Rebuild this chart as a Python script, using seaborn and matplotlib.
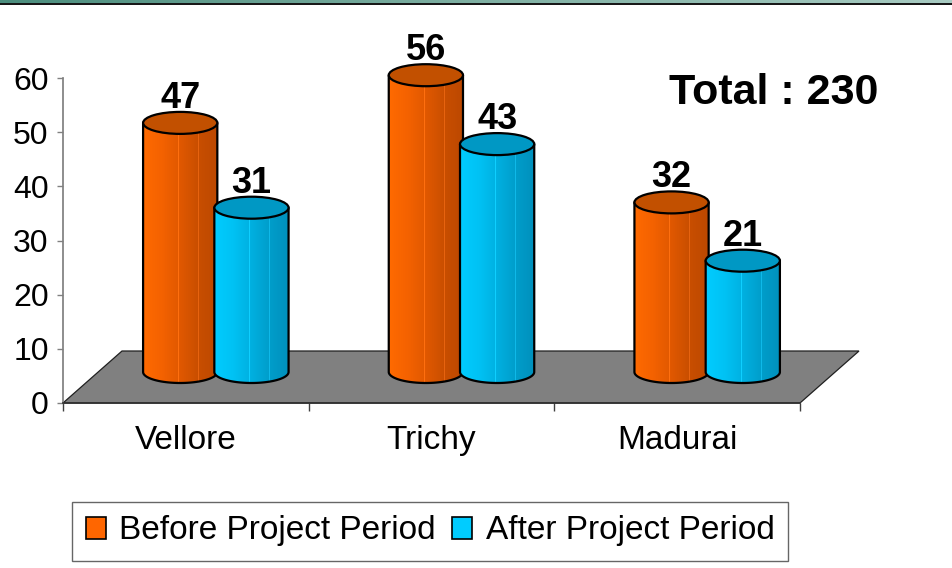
import numpy as np
import pandas as pd
import matplotlib
matplotlib.use("Agg")
import matplotlib.pyplot as plt
import seaborn as sns
from matplotlib.patches import Polygon, Ellipse, PathPatch, Patch
from matplotlib.path import Path
from matplotlib.lines import Line2D
from matplotlib.colors import LinearSegmentedColormap

# ---- data -------------------------------------------------------------
districts = ["Vellore", "Trichy", "Madurai"]
periods = ["Before Project Period", "After Project Period"]
before_counts = [47, 56, 32]
after_counts = [31, 43, 21]
total_label = "Total : 230"
y_ticks = [0, 10, 20, 30, 40, 50, 60]

df = pd.DataFrame({
    "district": districts * 2,
    "period": [periods[0]] * len(districts) + [periods[1]] * len(districts),
    "count": before_counts + after_counts,
})

# ---- style ------------------------------------------------------------
sns.set_theme(style="white")
plt.rcParams["font.family"] = ["Liberation Sans", "DejaVu Sans"]
plt.rcParams["text.color"] = "black"
plt.rcParams["xtick.labelcolor"] = "black"
plt.rcParams["ytick.labelcolor"] = "black"

ORANGE = "#FF6600"
BLUE = "#00CCFF"
body_stops = {
    ORANGE: ["#FF6A00", "#F46200", "#E05800", "#C84E00", "#BC4800"],
    BLUE: ["#00CCFF", "#00C2F4", "#00B0E0", "#009DCA", "#0090BC"],
}
cap_color = {ORANGE: "#C25000", BLUE: "#0098C4"}

W, H = 953, 568
fig = plt.figure(figsize=(W / 100, H / 100), dpi=100)


def box(left, top, right, bottom):
    return [left / W, 1 - bottom / H, (right - left) / W, (bottom - top) / H]


# header band
ax_head = fig.add_axes(box(0, 0, W, 3))
head = LinearSegmentedColormap.from_list("head", ["#4C8E7E", "#7FB0A3", "#A8CBC2"])
ax_head.imshow(np.linspace(0, 1, 256)[None, :], cmap=head, aspect="auto",
               extent=(0, 1, 0, 1))
ax_head.axis("off")
fig.add_artist(Line2D([0, 1], [1 - 3.6 / H] * 2, color="black", lw=1.3,
                      transform=fig.transFigure))

# ---- value axis and floor (front plane) --------------------------------
ax = fig.add_axes(box(63, 78, 800, 403))
ax.set_facecolor("none")
ax.set_xlim(-0.5, 2.5)
ax.set_ylim(0, 60)
ax.set_yticks(y_ticks)
ax.set_yticklabels([str(t) for t in y_ticks], fontsize=23)
ax.tick_params(axis="y", length=4.3, width=1, color="#808080", pad=6,
               left=True, direction="out", labelcolor="black")
ax.set_xticks([-0.5, 0.5, 1.5, 2.5])
ax.set_xticklabels([])
ax.set_xticks([0, 1, 2], minor=True)
ax.set_xticklabels(districts, minor=True, fontsize=24)
ax.tick_params(axis="x", which="major", length=5.8, width=1, color="#404040",
               direction="out", bottom=True)
ax.tick_params(axis="x", which="minor", length=0, pad=16, labelcolor="black")
for side in ("top", "right"):
    ax.spines[side].set_visible(False)
ax.spines["left"].set_color("#808080")
ax.spines["bottom"].set_color("#303030")
ax.spines["bottom"].set_linewidth(1.2)

depth_x = 59 / (737 / 3)
depth_y = 52 / (325 / 60)
floor = Polygon([(-0.5, 0), (2.5, 0), (2.5 + depth_x, depth_y),
                 (-0.5 + depth_x, depth_y)], closed=True,
                facecolor="#808080", edgecolor="#202020", lw=0.9,
                clip_on=False, zorder=1)
ax.add_patch(floor)

# ---- cylinders (mid-depth plane) --------------------------------------
px_per_unit = 318 / 60
y_low = -5
ax_bar = fig.add_axes(box(93, 54, 830, 372 - y_low * px_per_unit))
ax_bar.set_facecolor("none")

sns.barplot(data=df, x="district", y="count", hue="period",
            palette=[ORANGE, BLUE], width=0.58, saturation=1,
            legend=False, ax=ax_bar)

ey = 11 / px_per_unit        # half height of the elliptical caps
grow = 1.5 / (737 / 3)       # cylinders slightly overlap their neighbour
bars = [p for p in ax_bar.patches]
n = len(districts)
for i, bar in enumerate(bars):
    base_col = ORANGE if i < n else BLUE
    z = 2 if i < n else 6
    w = bar.get_width() + 2 * grow
    x0 = bar.get_x() - grow
    h = bar.get_height()
    xc = x0 + w / 2
    bar.set_alpha(0)

    t = np.linspace(np.pi, 2 * np.pi, 60)
    arc_x = xc + (w / 2) * np.cos(t)
    arc_y = ey * np.sin(t)
    verts = [(x0, h), (x0, 0)] + list(zip(arc_x, arc_y)) + [(x0 + w, h), (x0, h)]
    codes = [Path.MOVETO] + [Path.LINETO] * (len(verts) - 2) + [Path.CLOSEPOLY]
    body = Path(verts, codes)

    # banded horizontal shading across the cylinder
    cmap = LinearSegmentedColormap.from_list("c", body_stops[base_col])
    cols = cmap(np.linspace(0, 1, 200))[:, :3]
    for f in (0.12, 0.47, 0.74, 0.84, 0.92):
        k = int(f * 199)
        cols[k:k + 2] = np.clip(cols[k:k + 2] * 1.08 + 0.06, 0, 1)
    img = ax_bar.imshow(cols[None, :, :], aspect="auto",
                        extent=(x0, x0 + w, -ey, h), zorder=z,
                        interpolation="nearest")
    clip = PathPatch(body, transform=ax_bar.transData, facecolor="none",
                     edgecolor="none")
    img.set_clip_path(clip)

    outline = [(x0, h), (x0, 0)] + list(zip(arc_x, arc_y)) + [(x0 + w, h)]
    ox, oy = zip(*outline)
    ax_bar.plot(ox, oy, color="black", lw=1.6, zorder=z + 1,
                solid_joinstyle="round")
    ax_bar.add_patch(Ellipse((xc, h), w, 2 * ey, facecolor=cap_color[base_col],
                             edgecolor="black", lw=1.6, zorder=z + 2))
    ax_bar.annotate(f"{h:.0f}", xy=(xc, h), xytext=(0, 15),
                    textcoords="offset pixels", ha="center", va="baseline",
                    fontsize=26, fontweight="bold", color="black",
                    zorder=z + 3)

ax_bar.set_xlim(-0.5, 2.5)
ax_bar.set_ylim(y_low, 60)
ax_bar.axis("off")

# ---- annotations ------------------------------------------------------
fig.text(774 / W, 1 - 93 / H, total_label, ha="center", va="center",
         fontsize=31, fontweight="bold", color="black")

handles = [Patch(facecolor=ORANGE, edgecolor="black", lw=1.2, label=periods[0]),
           Patch(facecolor=BLUE, edgecolor="black", lw=1.2, label=periods[1])]
leg = fig.legend(handles=handles, loc="center",
                 bbox_to_anchor=(430 / W, 1 - 531 / H), ncol=2, frameon=True,
                 fancybox=False, edgecolor="#404040", fontsize=24,
                 handlelength=0.6, handleheight=0.65, handletextpad=0.4,
                 columnspacing=0.5, borderpad=0.42, borderaxespad=0)
leg.get_frame().set_linewidth(1.0)

fig.savefig("out.png", dpi=100)
